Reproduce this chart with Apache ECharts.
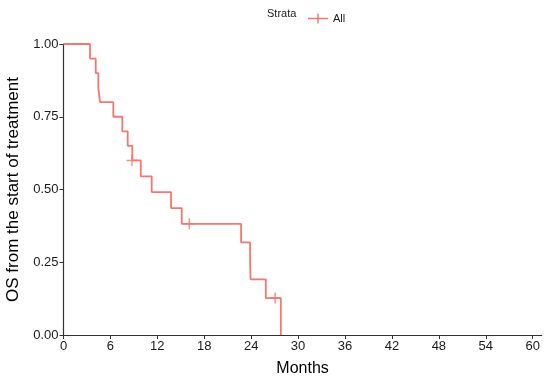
<!DOCTYPE html>
<html>
<head>
<meta charset="utf-8">
<script src="https://cdn.jsdelivr.net/npm/echarts@6/dist/echarts.min.js"></script>
<style>html,body{margin:0;padding:0;background:#fff}#c{width:545px;height:381px}</style>
</head>
<body>
<div id="c"></div>
<script>
// Kaplan-Meier step data (months, survival probability)
var eventTimes = [3.39, 4.12, 4.45, 4.67, 6.37, 7.52, 8.21, 8.8, 9.88, 11.28, 13.75, 15.12, 22.71, 23.86, 23.92, 25.87, 27.79];
var survival   = [0.95, 0.90, 0.85, 0.80, 0.75, 0.70, 0.65, 0.60, 0.545, 0.491, 0.436, 0.382, 0.318, 0.255, 0.191, 0.127, 0];
var censorTimes = [8.75, 16.09, 27.06];
var censorSurv  = [0.60, 0.382, 0.127];
var xTicks = [0, 6, 12, 18, 24, 30, 36, 42, 48, 54, 60];
var yTicks = [0, 0.25, 0.5, 0.75, 1];
var stratumName = 'All';

var kmData = [[0, 1]];
for (var i = 0; i < eventTimes.length; i++) kmData.push([eventTimes[i], survival[i]]);
var censorData = censorTimes.map(function (t, i) { return [t, censorSurv[i]]; });

var RED = '#F8766D';
var FONT = 'Liberation Sans, Arial, sans-serif';
var plusPath = 'path://M0,4.3H10V5.7H0Z M4.3,0H5.7V10H4.3Z';
var chart = echarts.init(document.getElementById('c'), null, {renderer: 'canvas'});
chart.setOption({
  animation: false,
  color: [RED, RED],
  textStyle: {fontFamily: FONT},
  grid: {left: 63.5, right: 3.3, top: 44, bottom: 46, containLabel: false, outerBoundsMode: 'none'},
  legend: {
    data: [{name: stratumName, itemStyle: {color: RED}}],
    left: 303, top: 8,
    itemWidth: 20, itemHeight: 10, itemGap: 6,
    icon: 'path://M0,4.3H20V5.7H0Z M9.3,0H10.7V10H9.3Z',
    textStyle: {fontSize: 11, color: '#1a1a1a', fontFamily: FONT}
  },
  graphic: [{
    type: 'text', left: 267, top: 8,
    style: {text: 'Strata', fontSize: 11, fill: '#1a1a1a', fontFamily: FONT}
  }],
  xAxis: {
    type: 'value', min: 0, max: 61.15,
    name: 'Months', nameLocation: 'middle', nameGap: 26,
    nameTextStyle: {fontSize: 16, color: '#000'},
    axisLine: {show: true, lineStyle: {color: '#333', width: 1.2}},
    axisTick: {show: true, length: 4, lineStyle: {color: '#333'}, customValues: xTicks},
    axisLabel: {fontSize: 13, color: '#1a1a1a', margin: 5, customValues: xTicks},
    splitLine: {show: false}
  },
  yAxis: {
    type: 'value', min: 0, max: 1,
    name: 'OS from the start of treatment', nameLocation: 'middle', nameGap: 33,
    nameTextStyle: {fontSize: 17, color: '#000'},
    axisLine: {show: true, lineStyle: {color: '#333', width: 1.2}},
    axisTick: {show: true, length: 4, lineStyle: {color: '#333'}, customValues: yTicks},
    axisLabel: {fontSize: 13, color: '#1a1a1a', margin: 5, customValues: yTicks,
      formatter: function (v) { return v.toFixed(2); }},
    splitLine: {show: false}
  },
  series: [{
    name: stratumName, type: 'line', step: 'end', data: kmData,
    showSymbol: false, symbol: 'none', color: RED,
    lineStyle: {color: RED, width: 1.8}, itemStyle: {color: RED}
  }, {
    name: 'censor', type: 'scatter', data: censorData,
    symbol: plusPath, symbolSize: 11,
    itemStyle: {color: RED}
  }]
});
</script>
</body>
</html>
